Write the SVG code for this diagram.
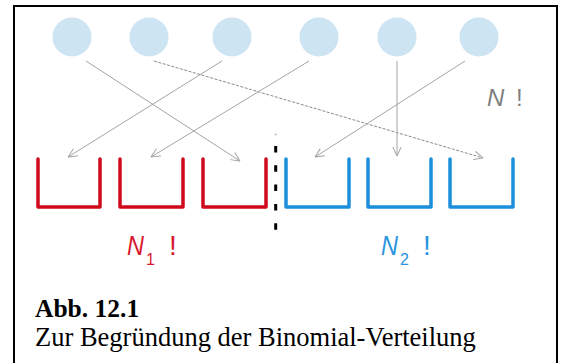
<svg xmlns="http://www.w3.org/2000/svg" width="565" height="363" viewBox="0 0 565 363">
<defs>
<style>
.ball{fill:#cde4f3}
.conn{stroke:#a4a4a4;stroke-width:1;fill:none;marker-end:url(#arr)}
.dash{stroke:#8a8a8a;stroke-dasharray:3 1.5}
.bk{fill:none;stroke-width:3.5;stroke-linecap:round;stroke-linejoin:round}
.red{stroke:#cf0a1c}
.blue{stroke:#1b8fdb}
.lbl{font-family:"Liberation Sans",Arial,sans-serif}
.cap{font-family:"Liberation Serif","Times New Roman",serif;fill:#000}
</style>
<marker id="arr" viewBox="0 0 10 10" refX="9.5" refY="5" markerWidth="10" markerHeight="10" markerUnits="userSpaceOnUse" orient="auto">
<path d="M0.5,0.8 L9.5,5 L0.5,9.2" fill="none" stroke="#a4a4a4" stroke-width="1"/>
</marker>
</defs>
<rect width="565" height="363" fill="#fff"/>
<rect x="14" y="6" width="543" height="400" fill="none" stroke="#000" stroke-width="2"/>
<g id="ball1"><circle class="ball" cx="72" cy="37" r="19.5"/></g>
<g id="ball2"><circle class="ball" cx="149" cy="37" r="19.5"/></g>
<g id="ball3"><circle class="ball" cx="232" cy="37" r="19.5"/></g>
<g id="ball4"><circle class="ball" cx="319" cy="37" r="19.5"/></g>
<g id="ball5"><circle class="ball" cx="397" cy="37" r="19.5"/></g>
<g id="ball6"><circle class="ball" cx="479" cy="37" r="19.5"/></g>
<g id="connectors">
<line class="conn" x1="86" y1="61" x2="240" y2="161"/>
<line class="conn dash" x1="154" y1="61" x2="483" y2="158"/>
<line class="conn" x1="222" y1="61" x2="68" y2="157"/>
<line class="conn" x1="309" y1="61" x2="151" y2="157"/>
<line class="conn" x1="397" y1="61" x2="397" y2="156"/>
<line class="conn" x1="465" y1="61" x2="315" y2="157"/>
</g>
<g id="bucket1"><path class="bk red" d="M38,159 V207 H100 V159"/></g>
<g id="bucket2"><path class="bk red" d="M120,159 V207 H183 V159"/></g>
<g id="bucket3"><path class="bk red" d="M203,159 V207 H266 V159"/></g>
<g id="bucket4"><path class="bk blue" d="M286,159 V207 H349 V159"/></g>
<g id="bucket5"><path class="bk blue" d="M368,159 V207 H431 V159"/></g>
<g id="bucket6"><path class="bk blue" d="M450,159 V207 H513 V159"/></g>
<g id="divider">
<circle cx="275.7" cy="134.5" r="1" fill="#bbb"/>
<line x1="275.7" y1="146" x2="275.7" y2="230" stroke="#000" stroke-width="3" stroke-dasharray="6.5 12.8"/>
</g>
<g id="label-N" class="lbl" fill="#7f7f7f" font-size="24">
<text x="487" y="106" font-style="italic">N</text>
<text x="516" y="106">!</text>
</g>
<g id="label-N1" class="lbl" fill="#d8182e">
<text x="127" y="255" font-size="28" font-style="italic" textLength="17" lengthAdjust="spacingAndGlyphs">N</text>
<text x="146" y="265" font-size="16">1</text>
<text x="169" y="255" font-size="28">!</text>
</g>
<g id="label-N2" class="lbl" fill="#2a95de">
<text x="381" y="255" font-size="28" font-style="italic" textLength="17" lengthAdjust="spacingAndGlyphs">N</text>
<text x="400" y="265" font-size="16">2</text>
<text x="423" y="255" font-size="28">!</text>
</g>
<g id="caption">
<text class="cap" x="35" y="317" font-size="25.5" font-weight="bold">Abb. 12.1</text>
<text class="cap" x="35" y="346" font-size="26.5">Zur Begründung der Binomial-Verteilung</text>
</g>
</svg>
